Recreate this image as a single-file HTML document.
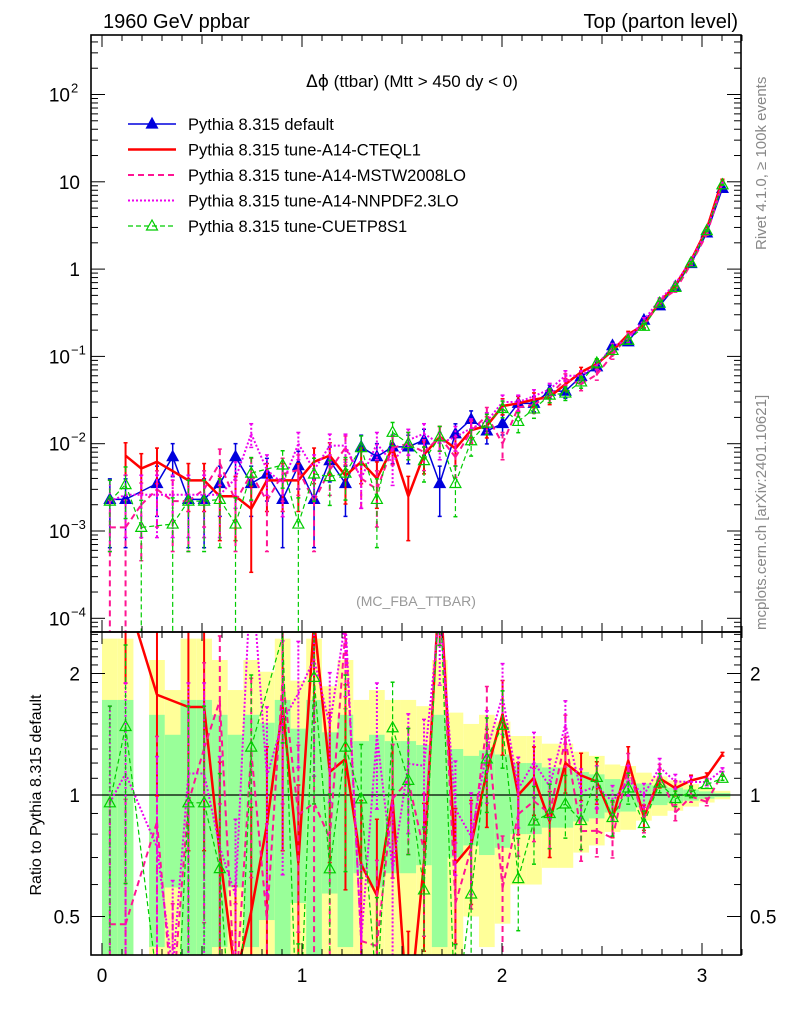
<!DOCTYPE html>
<html><head><meta charset="utf-8"><style>
html,body{margin:0;padding:0;background:#fff;width:786px;height:1024px;overflow:hidden;}
svg{display:block;font-family:"Liberation Sans",sans-serif;}
</style></head><body>
<svg id="chart" width="786" height="1024" viewBox="0 0 786 1024" xmlns="http://www.w3.org/2000/svg">
<defs>
<clipPath id="clipMain"><rect x="91" y="35" width="650" height="597"/></clipPath>
<clipPath id="clipRatio"><rect x="91" y="632" width="650" height="323"/></clipPath>
</defs>
<rect width="786" height="1024" fill="#fff"/>
<g id="bands" clip-path="url(#clipRatio)"></g>
<g id="mainSeries" clip-path="url(#clipMain)"></g>
<g id="ratioSeries" clip-path="url(#clipRatio)"></g>
<g id="axes"></g>
<text x="103" y="28" font-size="20">1960 GeV ppbar</text>
<text x="738" y="28" font-size="20" text-anchor="end">Top (parton level)</text>
<text x="412" y="87" font-size="17" text-anchor="middle"><tspan font-family="DejaVu Sans" font-size="17">Δϕ</tspan> (ttbar) (Mtt &gt; 450 dy &lt; 0)</text>
<text x="416" y="606" font-size="14" fill="#999" text-anchor="middle">(MC_FBA_TTBAR)</text>
<text transform="translate(766,250) rotate(-90)" font-size="15" fill="#888">Rivet 4.1.0, ≥ 100k events</text>
<text transform="translate(766,630) rotate(-90)" font-size="15" fill="#888">mcplots.cern.ch [arXiv:2401.10621]</text>
<text transform="translate(41,795) rotate(-90)" font-size="16" text-anchor="middle">Ratio to Pythia 8.315 default</text>
<g id="legend"></g>
</svg>
<script>
const binEdgeMax = Math.PI;
const nBins = 40;
const seriesDefault = [2.3e-3,2.3e-3,0,3.5e-3,7.1e-3,2.3e-3,2.3e-3,3.5e-3,7.1e-3,3.5e-3,4.5e-3,2.3e-3,5.6e-3,2.3e-3,6.4e-3,3.5e-3,9.2e-3,7.1e-3,9.2e-3,9.2e-3,1.1e-2,3.5e-3,1.3e-2,1.9e-2,1.4e-2,1.7e-2,2.9e-2,2.9e-2,4.0e-2,4.0e-2,5.9e-2,7.6e-2,0.133,0.147,0.26,0.38,0.63,1.16,2.6,8.4];
const relErrDefault = [0.72,0.72,0,0.58,0.41,0.72,0.72,0.58,0.41,0.58,0.51,0.72,0.46,0.72,0.43,0.58,0.36,0.41,0.36,0.36,0.33,0.58,0.30,0.25,0.29,0.26,0.20,0.20,0.17,0.17,0.14,0.125,0.095,0.09,0.068,0.056,0.043,0.032,0.021,0.012];
const seriesCTEQL1 = [0,7.3e-3,5.2e-3,6.2e-3,0,3.8e-3,3.8e-3,2.5e-3,2.5e-3,1.8e-3,3.8e-3,3.8e-3,3.8e-3,6.2e-3,7.3e-3,4.3e-3,6.2e-3,4.0e-3,9.0e-3,2.5e-3,7.5e-3,1.2e-2,8.8e-3,1.43e-2,1.6e-2,2.7e-2,2.9e-2,3.2e-2,3.44e-2,4.8e-2,6.6e-2,8.2e-2,0.116,0.179,0.229,0.418,0.655,1.26,2.89,10.6];
const seriesMSTW = [1.1e-3,1.1e-3,2.0e-3,3.0e-3,2.2e-3,2.2e-3,3.0e-3,6.0e-3,2.2e-3,4.5e-3,2.2e-3,4.5e-3,5.0e-3,2.2e-3,5.0e-3,9.0e-3,4.0e-3,3.0e-3,9.0e-3,1.0e-2,8.0e-3,1.2e-2,7.0e-3,1.4e-2,2.1e-2,1.0e-2,2.6e-2,2.8e-2,3.6e-2,5.5e-2,4.8e-2,6.2e-2,0.104,0.172,0.226,0.43,0.57,1.15,2.5,9.5];
const seriesNNPDF = [2.2e-3,2.6e-3,2.6e-3,2.6e-3,2.6e-3,2.6e-3,2.6e-3,2.6e-3,4.0e-3,1.3e-2,5.0e-3,3.5e-3,1.0e-2,5.0e-3,9.5e-3,9.5e-3,4.0e-3,1.0e-2,6.0e-3,1.1e-2,1.3e-2,1.0e-2,1.2e-2,1.5e-2,1.8e-2,3.0e-2,3.0e-2,3.5e-2,4.2e-2,6.0e-2,6.0e-2,8.0e-2,0.128,0.16,0.26,0.445,0.68,1.25,2.8,9.7];
const seriesCUETP8S1 = [2.2e-3,3.4e-3,1.1e-3,0,1.2e-3,2.2e-3,2.2e-3,2.3e-3,1.2e-3,4.6e-3,0,5.7e-3,1.2e-3,4.5e-3,4.2e-3,4.6e-3,9.0e-3,2.3e-3,1.35e-2,1.0e-2,6.4e-3,1.2e-2,3.5e-3,1.08e-2,1.72e-2,2.53e-2,1.8e-2,2.5e-2,3.6e-2,3.8e-2,5.1e-2,8.4e-2,0.117,0.153,0.221,0.407,0.617,1.18,2.76,9.24];
const legendLabels = ["Pythia 8.315 default","Pythia 8.315 tune-A14-CTEQL1","Pythia 8.315 tune-A14-MSTW2008LO","Pythia 8.315 tune-A14-NNPDF2.3LO","Pythia 8.315 tune-CUETP8S1"];
const mainTickLabels = ["10^2","10","1","10^-1","10^-2","10^-3","10^-4"];
const mainTickValues = [100,10,1,0.1,0.01,0.001,0.0001];
const ratioTickValues = [2,1,0.5];
const ratioTickLabels = ["2","1","0.5"];
const xTickValues = [0,1,2,3];

const NS="http://www.w3.org/2000/svg";
const X=v=>102+200*v;
const YM=v=>94.5+(2-Math.log10(v))*87.3;
const YR=r=>795-121.5*Math.log2(r);
function mk(tag,attrs,parent){const e=document.createElementNS(NS,tag);for(const k in attrs)e.setAttribute(k,attrs[k]);parent.appendChild(e);return e;}
const bw=binEdgeMax/nBins;
const ctr=i=>(i+0.5)*bw;
const clampY=(y,lo,hi)=>Math.max(lo,Math.min(hi,y));

// clip a segment to y-range [lo,hi]; returns null if fully outside
function clipSeg(a,b,lo,hi){
  let [x1,y1]=a,[x2,y2]=b;
  if((y1<lo&&y2<lo)||(y1>hi&&y2>hi))return null;
  const fx=y=>x1+(x2-x1)*(y-y1)/(y2-y1);
  let p=[x1,y1],q=[x2,y2];
  if(y1<lo)p=[fx(lo),lo]; else if(y1>hi)p=[fx(hi),hi];
  if(y2<lo)q=[fx(lo),lo]; else if(y2>hi)q=[fx(hi),hi];
  return [p,q];
}

const bands=document.getElementById('bands');
for(let i=0;i<nBins;i++){
  const e=relErrDefault[i]; if(!(seriesDefault[i]>0))continue;
  const x0=X(i*bw),x1=X((i+1)*bw);
  const yt=clampY(YR(1+2*e),630,957), yb=(1-2*e)>0?clampY(YR(1-2*e),630,957):957;
  const r1=mk('rect',{x:x0,y:yt,width:x1-x0,height:yb-yt,fill:'#ffff99'},bands);
  
  
  const gt=clampY(YR(1+e),630,957), gb=(1-e)>0?clampY(YR(1-e),630,957):957;
  const r2=mk('rect',{x:x0,y:gt,width:x1-x0,height:gb-gt,fill:'#99ff99'},bands);
  
  
}
const unity=mk('line',{x1:91,x2:741,y1:YR(1),y2:YR(1),stroke:'#000','stroke-width':1.2},bands);



const styles=[
 {name:'default',data:seriesDefault,color:'#0000dd',w:1.5,dash:'',marker:'fill'},
 {name:'cteql1',data:seriesCTEQL1,color:'#ff0000',w:2.5,dash:'',marker:''},
 {name:'mstw',data:seriesMSTW,color:'#ff1493',w:2,dash:'6,4',marker:''},
 {name:'nnpdf',data:seriesNNPDF,color:'#ee00ee',w:2,dash:'2,2',marker:''},
 {name:'cuetp8s1',data:seriesCUETP8S1,color:'#00cc00',w:1.2,dash:'5,3',marker:'open'}
];
function relErr(v,i,s){return s.name==='default'?relErrDefault[i]:0.0345/Math.sqrt(v);}
function tri(g,x,y,s){
  const p=mk('polygon',{points:`${x},${y-6} ${x-5.5},${y+4} ${x+5.5},${y+4}`,fill:s.marker==='fill'?s.color:'none',stroke:s.color,'stroke-width':1.2},g);
  
  
}
function drawPanel(gid,isRatio){
  const root=document.getElementById(gid);
  const lo=isRatio?630:33, hi=isRatio?957:634;
  styles.forEach(s=>{
    if(isRatio && s.name==='default') return;
    const g=mk('g',{},root);
    
    
    const pts=[];
    for(let i=0;i<nBins;i++){
      const v=s.data[i]; if(!(v>0))continue;
      let val=v;
      if(isRatio){ if(!(seriesDefault[i]>0))continue; val=v/seriesDefault[i]; }
      const e=relErr(v,i,s);
      const x=X(ctr(i)), Y=isRatio?YR:YM;
      const y=Y(val), yt=clampY(Y(val*(1+e)),lo,hi), yb=(1-e)>0?clampY(Y(val*(1-e)),lo,hi):hi;
      pts.push([x,y]);
      if(yb>yt){
        const eb=mk('line',{x1:x,x2:x,y1:yt,y2:yb,stroke:s.color,'stroke-width':Math.min(s.w,2),'stroke-dasharray':s.dash},g);
        
        
        if(yt>lo) mk('line',{x1:x-2,x2:x+2,y1:yt,y2:yt,stroke:s.color,'stroke-width':1.5},g);
        if(yb<hi) mk('line',{x1:x-2,x2:x+2,y1:yb,y2:yb,stroke:s.color,'stroke-width':1.5},g);
      }
    }
    let d='';
    for(let k=0;k+1<pts.length;k++){
      const c=clipSeg(pts[k],pts[k+1],lo,hi); if(!c)continue;
      d+=`M${c[0][0].toFixed(2)},${c[0][1].toFixed(2)}L${c[1][0].toFixed(2)},${c[1][1].toFixed(2)}`;
    }
    const pl=mk('path',{d:d,fill:'none',stroke:s.color,'stroke-width':s.w,'stroke-dasharray':s.dash,'stroke-linejoin':'round'},g);
    
    
    if(s.marker) pts.forEach(p=>{ if(p[1]>lo+6&&p[1]<hi-6) tri(g,p[0],p[1],s); });
  });
}
drawPanel('mainSeries',false);
drawPanel('ratioSeries',true);

const ax=document.getElementById('axes');
[[91,35,650,597],[91,632,650,323]].forEach((r,k)=>{
  const f=mk('rect',{x:r[0],y:r[1],width:r[2],height:r[3],fill:'none',stroke:'#000','stroke-width':1.6},ax);
  
  
});
for(let t=0;t<=3.2001;t+=0.1){
  const x=X(t); const maj=Math.abs(t-Math.round(t))<1e-6; const half=Math.abs(t*2-Math.round(t*2))<1e-6;
  const L=maj?12:(half?9:6);
  [[35,1],[632,-1],[632,1],[955,-1]].forEach(([y,d])=>mk('line',{x1:x,x2:x,y1:y,y2:y+d*L,stroke:'#000','stroke-width':1},ax));
}
xTickValues.forEach(v=>{
  const t=mk('text',{x:X(v),y:982,'font-size':19,'text-anchor':'middle'},ax);t.textContent=String(v);
  
  
});
for(let d=-5;d<=2;d++){
  for(let m=1;m<10;m++){
    const v=m*Math.pow(10,d); const y=YM(v); if(y<35||y>632)continue;
    const L=m===1?14:7;
    mk('line',{x1:91,x2:91+L,y1:y,y2:y,stroke:'#000','stroke-width':1},ax);
    mk('line',{x1:741,x2:741-L,y1:y,y2:y,stroke:'#000','stroke-width':1},ax);
  }
}
mainTickValues.forEach((v,i)=>{
  const lab=mainTickLabels[i]; const y=YM(v)+7;
  const t=mk('text',{x:lab.includes('^')?70:80,y:y,'font-size':19,'text-anchor':'end'},ax);
  
  
  if(lab.includes('^')){
    const [b,e]=lab.split('^');
    t.textContent=b;
    const s=mk('text',{x:71,y:y-9,'font-size':13},ax);
    s.textContent=e.replace('-','−');
    
    
  } else t.textContent=lab;
});
for(let r=0.4;r<=2.56;r+=0.1){
  const y=YR(r); if(y<632||y>955)continue;
  const maj=ratioTickValues.some(v=>Math.abs(v-r)<1e-6);
  const L=maj?14:7;
  mk('line',{x1:91,x2:91+L,y1:y,y2:y,stroke:'#000','stroke-width':1},ax);
  mk('line',{x1:741,x2:741-L,y1:y,y2:y,stroke:'#000','stroke-width':1},ax);
}
ratioTickValues.forEach((v,i)=>{
  const y=YR(v)+7;
  const t=mk('text',{x:80,y:y,'font-size':19,'text-anchor':'end'},ax);t.textContent=ratioTickLabels[i];
  
  
  const t2=mk('text',{x:750,y:y,'font-size':19},ax);t2.textContent=ratioTickLabels[i];
  
  
});
const lg=document.getElementById('legend');
styles.forEach((s,i)=>{
  const y=124+i*25.5;
  const g=mk('g',{},lg);
  
  
  mk('line',{x1:128,x2:176,y1:y,y2:y,stroke:s.color,'stroke-width':s.w,'stroke-dasharray':s.dash},g);
  if(s.marker) tri(g,152,y,s);
  const t=mk('text',{x:188,y:y+6,'font-size':16.5},g);t.textContent=legendLabels[i];
});
</script>
</body></html>
